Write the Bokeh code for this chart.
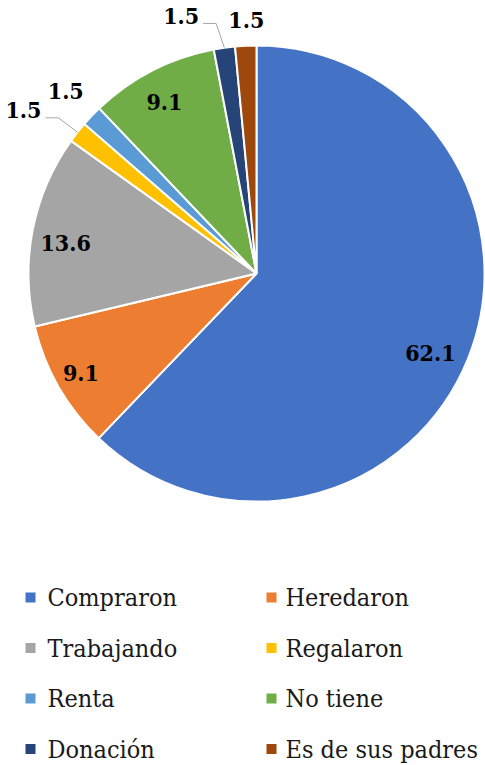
import math
from bokeh.plotting import figure
from bokeh.models import Range1d, ColumnDataSource
from bokeh.core.properties import value
from bokeh.embed import file_html
from bokeh.resources import INLINE

# ---- data ----
categories = ["Compraron", "Heredaron", "Trabajando", "Regalaron",
              "Renta", "No tiene", "Donación", "Es de sus padres"]
values = [62.1, 9.1, 13.6, 1.5, 1.5, 9.1, 1.5, 1.5]
value_labels = ["62.1", "9.1", "13.6", "1.5", "1.5", "9.1", "1.5", "1.5"]
colors = ["#4472C4", "#ED7D31", "#A5A5A5", "#FFC000",
          "#5B9BD5", "#70AD47", "#264478", "#9E480E"]

# ---- label layout (fraction of radius, clockwise nudge in degrees, leader line) ----
label_r = [0.838, 0.884, 0.848, 1.248, 1.157, 0.854, 1.177, 1.111]
label_da = [2.6, 0.4, -1.9, -3.3, 0.0, -1.0, -8.2, 0.4]
leader = [False, False, False, True, False, False, True, False]

LABEL_FONT = value("DejaVu Serif Condensed")
LEGEND_FONT = value("DejaVu Serif Condensed")

W, H = 485, 765
def img_y(y):  # convert screenshot y to data y
    return H - y
def img_x(x):
    return x

CX, CY, R = img_x(256), img_y(273), 228

p = figure(width=W, height=H, x_range=Range1d(0, W), y_range=Range1d(0, H),
           output_backend="svg", toolbar_location=None, min_border=0,
           x_axis_location=None, y_axis_location=None,
           outline_line_color=None, background_fill_color="white",
           border_fill_color="white")
p.grid.visible = False

total = sum(values)
cum = 0.0
starts, ends, mids = [], [], []
for v in values:
    a0 = math.pi / 2 - 2 * math.pi * cum / total
    cum += v
    a1 = math.pi / 2 - 2 * math.pi * cum / total
    starts.append(a0)
    ends.append(a1)
    mids.append((a0 + a1) / 2)

src = ColumnDataSource(dict(start=starts, end=ends, color=colors, cat=categories))
p.wedge(x=CX, y=CY, radius=R, start_angle="start", end_angle="end",
        direction="clock", fill_color="color", line_color="white",
        line_width=2, source=src)

# ---- data labels ----
lx, ly, lt = [], [], []
lead_xs, lead_ys = [], []
for i, m in enumerate(mids):
    ang = m - math.radians(label_da[i])
    x = CX + label_r[i] * R * math.cos(ang)
    y = CY + label_r[i] * R * math.sin(ang)
    lx.append(x)
    ly.append(y)
    lt.append(value_labels[i])
    if leader[i]:
        px = CX + R * math.cos(m)
        py = CY + R * math.sin(m)
        lead_xs.append([x + 22, x + 35, px])
        lead_ys.append([y - 7.5, y - 7.5, py])

if lead_xs:
    p.multi_line(xs=lead_xs, ys=lead_ys, line_color="#A6A6A6", line_width=1)

p.text(x=lx, y=ly, text=lt, text_font=LABEL_FONT,
       text_font_size="23px", text_font_style="bold", text_color="#000000",
       text_align="center", text_baseline="middle")

# ---- legend ----
sq_x, sq_y, tx, ty = [], [], [], []
for i, c in enumerate(categories):
    row, col = divmod(i, 2)
    cy_img = 597 + 50.5 * row
    sq_x.append(img_x([30, 271][col]))
    sq_y.append(img_y(cy_img))
    tx.append(img_x([47, 285][col]))
    ty.append(img_y(cy_img))

p.rect(x=sq_x, y=sq_y, width=10, height=10, fill_color=colors, line_color=None)
p.text(x=tx, y=ty, text=categories, text_font=LEGEND_FONT,
       text_font_size="25px", text_color="#1a1a1a",
       text_align="left", text_baseline="middle")

open("out.html", "w").write(file_html(p, INLINE))
